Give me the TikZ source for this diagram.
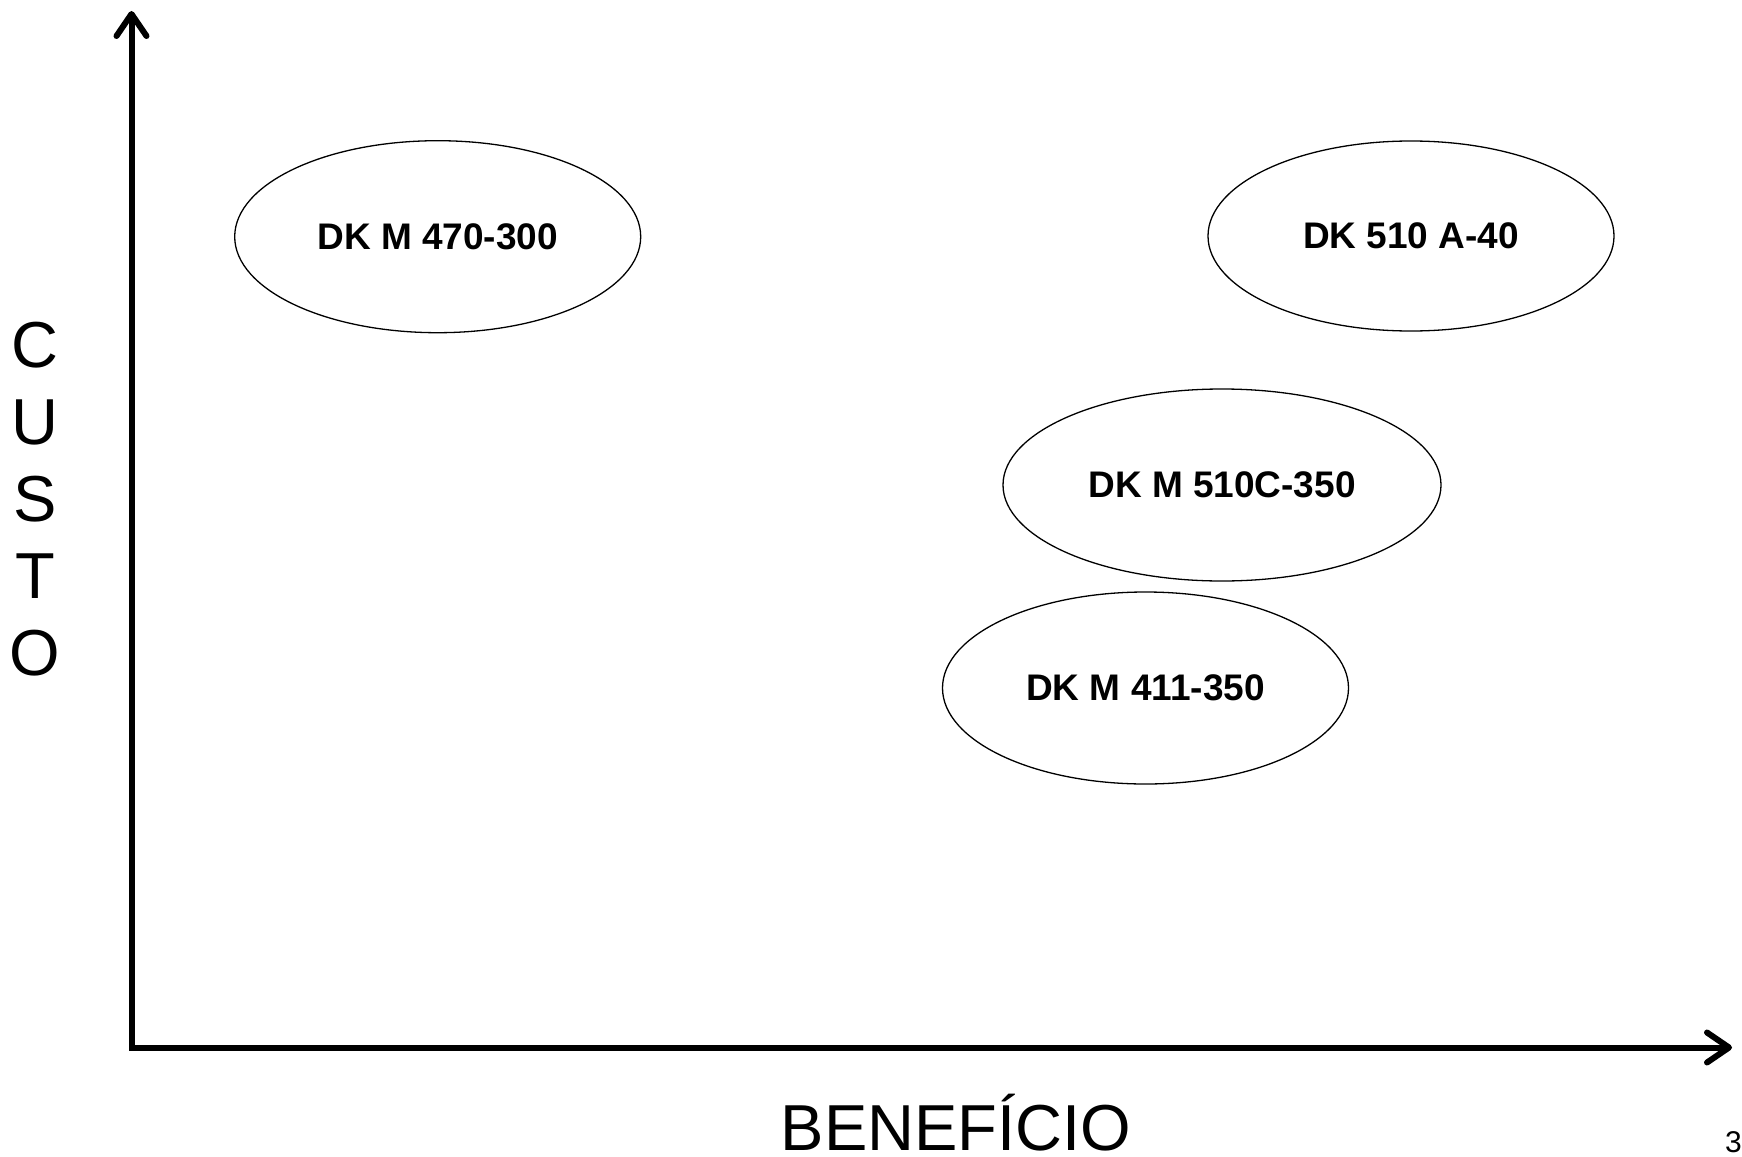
\documentclass[tikz,border=0pt]{standalone}
\usepackage{fontspec}
\setmainfont{Liberation Sans}
\usetikzlibrary{shapes.geometric,arrows.meta}
\newcommand{\lowertxt}[1]{\raisebox{-2pt}{#1}}
\begin{document}
\begin{tikzpicture}[x=1pt,y=-1pt,
  oval/.style={draw=black,line width=1.3pt,ellipse,inner sep=0pt,font=\fontsize{37}{44}\selectfont\bfseries},
  axis/.style={line width=6pt,line join=miter,{Straight Barb[length=22pt,width=30pt,line cap=round,line join=round]}-{Straight Barb[length=22pt,width=30pt,line cap=round,line join=round]}},
  axlabel/.style={font=\fontsize{65}{77}\selectfont,inner sep=0pt,align=center}]
\useasboundingbox (0,0) rectangle (1742,1156);
\coordinate (ytop) at (131.5,11);
\coordinate (orig) at (131.5,1047.5);
\coordinate (xend) at (1732,1047.5);
\draw[axis] (ytop) -- (orig) -- (xend);
\node[oval,minimum width=406pt,minimum height=192pt] (e1) at (437.7,236.7) {\lowertxt{DK M 470-300}};
\node[oval,minimum width=406pt,minimum height=190pt] (e2) at (1411,236) {\lowertxt{DK 510 A-40}};
\node[oval,minimum width=438pt,minimum height=192pt] (e3) at (1222,485) {\lowertxt{DK M 510C-350}};
\node[oval,minimum width=406pt,minimum height=192pt] (e4) at (1145.5,688) {\lowertxt{DK M 411-350}};
\node[axlabel,anchor=base] (xl) at (956,1150.5) {BENEFÍCIO};
\node[axlabel] (yl) at (35,499) {C\\U\\S\\T\\O};
\node[font=\fontsize{30}{36}\selectfont,inner sep=0pt,anchor=north west] (pg) at (1725,1131) {39};
\end{tikzpicture}
\end{document}
